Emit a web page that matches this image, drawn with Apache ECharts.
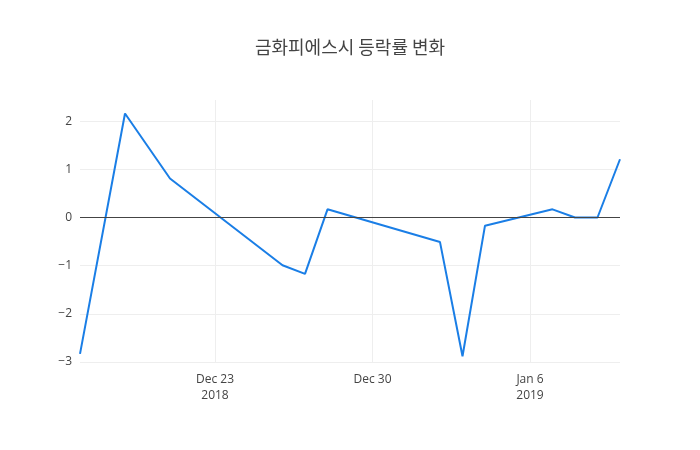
<!DOCTYPE html>
<html lang="ko">
<head>
    <meta charset="utf-8">
    <title>금화피에스시 등락률 변화</title>
    <script src="https://cdn.jsdelivr.net/npm/echarts@6/dist/echarts.min.js"></script>
</head>
<body style="margin:0">
    <div id="main" style="width: 700px;height:450px;"></div>
    <script type="text/javascript">
        // trading days and daily change (%)
        var dates = ['2018-12-17', '2018-12-19', '2018-12-21', '2018-12-26', '2018-12-27', '2018-12-28',
                     '2019-01-02', '2019-01-03', '2019-01-04', '2019-01-07', '2019-01-08', '2019-01-09', '2019-01-10'];
        var changes = [-2.83, 2.16, 0.81, -0.99, -1.17, 0.17, -0.51, -2.88, -0.17, 0.17, 0, 0, 1.21];

        var tickDates = ['2018-12-23', '2018-12-30', '2019-01-06'];
        var tickLabels = ['Dec 23\n2018', 'Dec 30', 'Jan 6\n2019'];
        var yTicks = [-3, -2, -1, 0, 1, 2];

        function toTime(s) {
            var p = s.split('-');
            return Date.UTC(+p[0], +p[1] - 1, +p[2]);
        }

        var tickTimes = tickDates.map(toTime);
        var data = dates.map(function (d, i) { return [toTime(d), changes[i]]; });

        var myChart = echarts.init(document.getElementById('main'));

        var option = {
            backgroundColor: '#fff',
            title: {
                text: '금화피에스시 등락률 변화',
                left: 'center',
                top: 33,
                textStyle: {
                    fontFamily: 'Noto Sans CJK KR',
                    fontSize: 18,
                    fontWeight: 'normal',
                    color: '#444'
                }
            },
            grid: { left: 80, right: 80, top: 100, bottom: 88 },
            xAxis: {
                type: 'value',
                min: toTime('2018-12-17'),
                max: toTime('2019-01-10'),
                axisLine: { show: false },
                axisTick: { show: false, customValues: tickTimes },
                splitLine: { show: true, lineStyle: { color: '#eee', width: 1 } },
                axisLabel: {
                    customValues: tickTimes,
                    color: '#444',
                    fontFamily: 'Open Sans',
                    fontSize: 12,
                    lineHeight: 16,
                    margin: 10,
                    formatter: function (v) {
                        var i = tickTimes.indexOf(v);
                        return i >= 0 ? tickLabels[i] : '';
                    }
                }
            },
            yAxis: {
                type: 'value',
                min: -3,
                max: 2.44,
                axisLine: { show: false },
                axisTick: { show: false, customValues: yTicks },
                splitLine: { show: true, lineStyle: { color: '#eee', width: 1 } },
                axisLabel: {
                    customValues: yTicks,
                    color: '#444',
                    fontFamily: 'Open Sans',
                    fontSize: 12,
                    margin: 8,
                    formatter: function (v) {
                        return v < 0 ? '\u2212' + Math.abs(v) : String(v);
                    }
                }
            },
            series: [{
                type: 'line',
                data: data,
                symbol: 'none',
                lineStyle: { color: '#1a7ee6', width: 2 },
                markLine: {
                    silent: true,
                    symbol: 'none',
                    label: { show: false },
                    lineStyle: { color: '#444', width: 1, type: 'solid' },
                    data: [{ yAxis: 0 }]
                },
                z: 3
            }]
        };

        myChart.setOption(option);
    </script>
</body>
</html>
